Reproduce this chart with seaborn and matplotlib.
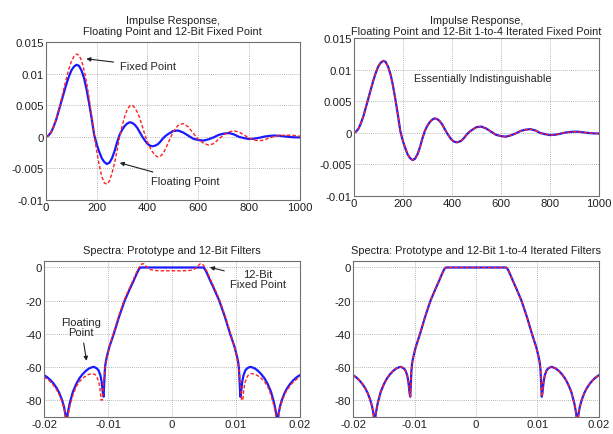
import numpy as np
import pandas as pd
import matplotlib
matplotlib.use("Agg")
import matplotlib.pyplot as plt
import seaborn as sns

# impulse response
t = [0, 10, 20, 30, 40, 50, 60, 70, 80, 90, 100, 110, 120, 130, 140, 150, 160, 170,
     180, 190, 200, 210, 220, 230, 240, 250, 260, 270, 280, 290, 300, 310, 320, 330,
     340, 350, 360, 370, 380, 390, 400, 410, 420, 430, 440, 450, 460, 470, 480,
     500, 520, 540, 560, 580, 600, 620, 640, 660, 680, 700, 720, 740, 760, 780,
     800, 820, 840, 860, 880, 900, 920, 940, 960, 980, 1000]
float_resp = [0.0, 0.0002, 0.0007, 0.0016, 0.0027, 0.0041, 0.0055, 0.0069, 0.0083,
              0.0095, 0.0105, 0.0111, 0.0114, 0.01125, 0.0105, 0.0093, 0.0075,
              0.0053, 0.0029, 0.0003, -0.0012, -0.0024, -0.0034, -0.0040, -0.0043,
              -0.0041, -0.0034, -0.0023, -0.0009, 0.0003, 0.0011, 0.0017, 0.0021,
              0.0023, 0.0022, 0.0019, 0.0014, 0.0007, 0.0, -0.0006, -0.0011,
              -0.0014, -0.0015, -0.0014, -0.0012, -0.0008, -0.0003, 0.0001, 0.0004,
              0.0009, 0.0010, 0.0007, 0.0002, -0.0003, -0.0005, -0.0006, -0.0004,
              -0.0001, 0.0003, 0.0005, 0.0006, 0.0004, 0.0, -0.0002, -0.00035,
              -0.0003, -0.00016, 0.00003, 0.00014, 0.0002, 0.00017, 0.00007,
              -0.00003, -0.00008, -0.0001]
fixed_resp = [0.0, 0.0002, 0.0007, 0.0016, 0.0028, 0.0042, 0.0058, 0.0075, 0.0092,
              0.0107, 0.0119, 0.0127, 0.0131, 0.0129, 0.0121, 0.0106, 0.0086,
              0.0061, 0.0033, 0.0003, -0.0023, -0.0045, -0.0063, -0.0073, -0.0075,
              -0.0070, -0.0058, -0.0042, -0.0022, 0.0, 0.0017, 0.0032, 0.0043,
              0.0049, 0.0050, 0.0046, 0.0039, 0.0029, 0.0016, 0.0003, -0.0008,
              -0.0017, -0.0024, -0.0029, -0.0032, -0.0031, -0.0027, -0.0020,
              -0.0011, 0.0007, 0.0018, 0.0021, 0.0016, 0.0006, -0.0004, -0.0010,
              -0.0013, -0.0011, -0.0004, 0.0003, 0.00077, 0.00095, 0.00077, 0.0003,
              -0.0002, -0.00052, -0.00063, -0.0005, -0.00019, 0.00007, 0.00019,
              0.00025, 0.00025, 0.0002, 0.0001]
iter_resp = float_resp  # essentially indistinguishable

# spectra (dB)
f_proto = [-0.0200, -0.0195, -0.0190, -0.0185, -0.0180, -0.0176, -0.0172, -0.0169,
           -0.0167, -0.0165, -0.0163, -0.0160, -0.0155, -0.0150, -0.0145, -0.0140,
           -0.0135, -0.0130, -0.0125, -0.0122, -0.0118, -0.0115, -0.0112, -0.0110,
           -0.0108, -0.0107, -0.0106, -0.0105, -0.0104, -0.0102, -0.0098, -0.0091,
           -0.0083, -0.0074, -0.0066, -0.0060, -0.0056, -0.0053, -0.0051, -0.0049,
           -0.0030, 0.0, 0.0030,
           0.0049, 0.0051, 0.0053, 0.0056, 0.0060, 0.0066, 0.0074, 0.0083, 0.0091,
           0.0098, 0.0102, 0.0104, 0.0105, 0.0106, 0.0107, 0.0108, 0.0110, 0.0112,
           0.0115, 0.0118, 0.0122, 0.0125, 0.0130, 0.0135, 0.0140, 0.0145, 0.0150,
           0.0155, 0.0160, 0.0163, 0.0165, 0.0167, 0.0169, 0.0172, 0.0176, 0.0180,
           0.0185, 0.0190, 0.0195, 0.0200]
db_proto = [-65, -66.3, -68, -70.2, -73, -76, -80, -84, -88, -95, -88, -82, -75,
            -70.5, -67, -64.5, -62.5, -61, -60.2, -60, -60.8, -62, -65, -69, -76,
            -78, -70, -62, -58, -54, -48, -40, -30, -20, -13, -8, -4.5, -2, -0.7,
            0, 0, 0, 0,
            0, -0.7, -2, -4.5, -8, -13, -20, -30, -40, -48, -54, -58, -62, -70,
            -78, -76, -69, -65, -62, -60.8, -60, -60.2, -61, -62.5, -64.5, -67,
            -70.5, -75, -82, -88, -95, -88, -84, -80, -76, -73, -70.2, -68, -66.3,
            -65]
f_fixed = [-0.0200, -0.0195, -0.0190, -0.0185, -0.0180, -0.0176, -0.0172, -0.0169,
           -0.0167, -0.0165, -0.0163, -0.0160, -0.0155, -0.0150, -0.0145, -0.0140,
           -0.0135, -0.0130, -0.0125, -0.0120, -0.0117, -0.0114, -0.0112, -0.0111,
           -0.0109, -0.0107, -0.0105, -0.0102, -0.0098, -0.0091, -0.0083, -0.0074,
           -0.0066, -0.0060, -0.0056, -0.0053, -0.0050, -0.0047, -0.0044, -0.0041,
           -0.0038, -0.0034, -0.0028, -0.0015, 0.0,
           0.0015, 0.0028, 0.0034, 0.0038, 0.0041, 0.0044, 0.0047, 0.0050, 0.0053,
           0.0056, 0.0060, 0.0066, 0.0074, 0.0083, 0.0091, 0.0098, 0.0102, 0.0105,
           0.0107, 0.0109, 0.0111, 0.0112, 0.0114, 0.0117, 0.0120, 0.0125, 0.0130,
           0.0135, 0.0140, 0.0145, 0.0150, 0.0155, 0.0160, 0.0163, 0.0165, 0.0167,
           0.0169, 0.0172, 0.0176, 0.0180, 0.0185, 0.0190, 0.0195, 0.0200]
db_fixed = [-66, -67.5, -69, -71.3, -74, -77, -81, -85, -89, -95, -90, -84, -77,
            -72, -69, -67, -65.5, -64.5, -64, -64.7, -66.5, -70, -75, -80, -80,
            -70, -62, -55, -48, -39, -29, -19, -12, -7, -3.5, -1, 1, 2.2, 2.2, 1,
            -0.2, -1.2, -1.8, -2, -2,
            -2, -1.8, -1.2, -0.2, 1, 2.2, 2.2, 1, -1, -3.5, -7, -12, -19, -29,
            -39, -48, -55, -62, -70, -80, -80, -75, -70, -66.5, -64.7, -64, -64.5,
            -65.5, -67, -69, -72, -77, -84, -90, -95, -89, -85, -81, -77, -74,
            -71.3, -69, -67.5, -66]
f_iter = f_proto
db_iter = db_proto

BLUE = "#1a1aff"
RED = "#ff2020"

sns.set_style("white")
plt.rcParams["font.family"] = ["Liberation Sans", "DejaVu Sans"]
plt.rcParams["axes.unicode_minus"] = False

fig = plt.figure(figsize=(6.13, 4.35), dpi=100)
ax1 = fig.add_axes([0.075, 0.538, 0.414, 0.363])
ax2 = fig.add_axes([0.577, 0.547, 0.400, 0.363])
ax3 = fig.add_axes([0.072, 0.040, 0.417, 0.358])
ax4 = fig.add_axes([0.576, 0.040, 0.401, 0.358])


def draw(ax, x1, y1, x2, y2):
    sns.lineplot(x=x1, y=y1, ax=ax, color=BLUE, lw=1.6, estimator=None, sort=False)
    sns.lineplot(x=x2, y=y2, ax=ax, color=RED, lw=1.0, estimator=None, sort=False,
                 linestyle=(0, (2.5, 1.5)))


def style(ax):
    ax.grid(True, color="#a0a0a0", linestyle=(0, (1, 1.5)), lw=0.6)
    for s in ax.spines.values():
        s.set_color("#707070")
        s.set_linewidth(0.8)
    ax.tick_params(labelsize=8.2, length=2, direction="in", pad=1.5, colors="#202020")
    ax.set_xlabel("")
    ax.set_ylabel("")


draw(ax1, t, float_resp, t, fixed_resp)
draw(ax2, t, float_resp, t, iter_resp)
for ax in (ax1, ax2):
    ax.set_xlim(0, 1000)
    ax.set_ylim(-0.01, 0.015)
    ax.set_xticks([0, 200, 400, 600, 800, 1000])
    ax.set_yticks([-0.01, -0.005, 0, 0.005, 0.01, 0.015])
    ax.set_yticklabels(["-0.01", "-0.005", "0", "0.005", "0.01", "0.015"])
    style(ax)

draw(ax3, f_proto, db_proto, f_fixed, db_fixed)
draw(ax4, f_proto, db_proto, f_iter, db_iter)
for ax in (ax3, ax4):
    ax.set_xlim(-0.02, 0.02)
    ax.set_ylim(-90, 4)
    ax.set_xticks([-0.02, -0.01, 0, 0.01, 0.02])
    ax.set_xticklabels(["-0.02", "-0.01", "0", "0.01", "0.02"])
    ax.set_yticks([0, -20, -40, -60, -80])
    style(ax)

ax1.set_title("Impulse Response,\nFloating Point and 12-Bit Fixed Point",
              fontsize=7.9, pad=6, linespacing=1.1, color="#202020")
ax2.set_title("Impulse Response,\nFloating Point and 12-Bit 1-to-4 Iterated Fixed Point",
              fontsize=7.8, pad=3, linespacing=1.1, color="#202020")
ax3.set_title("Spectra: Prototype and 12-Bit Filters", fontsize=7.9, pad=6,
              color="#202020")
ax4.set_title("Spectra: Prototype and 12-Bit 1-to-4 Iterated Filters", fontsize=7.9,
              pad=6, color="#202020")

arrow = dict(arrowstyle="-|>", color="#202020", lw=0.8, mutation_scale=6)
ax1.annotate("Fixed Point", xy=(148, 0.0124), xytext=(290, 0.0112),
             fontsize=8, va="center", arrowprops=arrow)
ax1.annotate("Floating Point", xy=(280, -0.0040), xytext=(415, -0.0070),
             fontsize=8, va="center", arrowprops=arrow)
ax2.text(525, 0.0087, "Essentially Indistinguishable", fontsize=7.8,
         ha="center", va="center")
ax3.annotate("12-Bit\nFixed Point", xy=(0.0055, 0.5), xytext=(0.0135, -7),
             fontsize=8, ha="center", va="center", linespacing=1.0,
             arrowprops=arrow)
ax3.annotate("Floating\nPoint", xy=(-0.0133, -58), xytext=(-0.0142, -36),
             fontsize=8, ha="center", va="center", linespacing=1.0,
             arrowprops=arrow)

fig.savefig("out.png", dpi=100)
